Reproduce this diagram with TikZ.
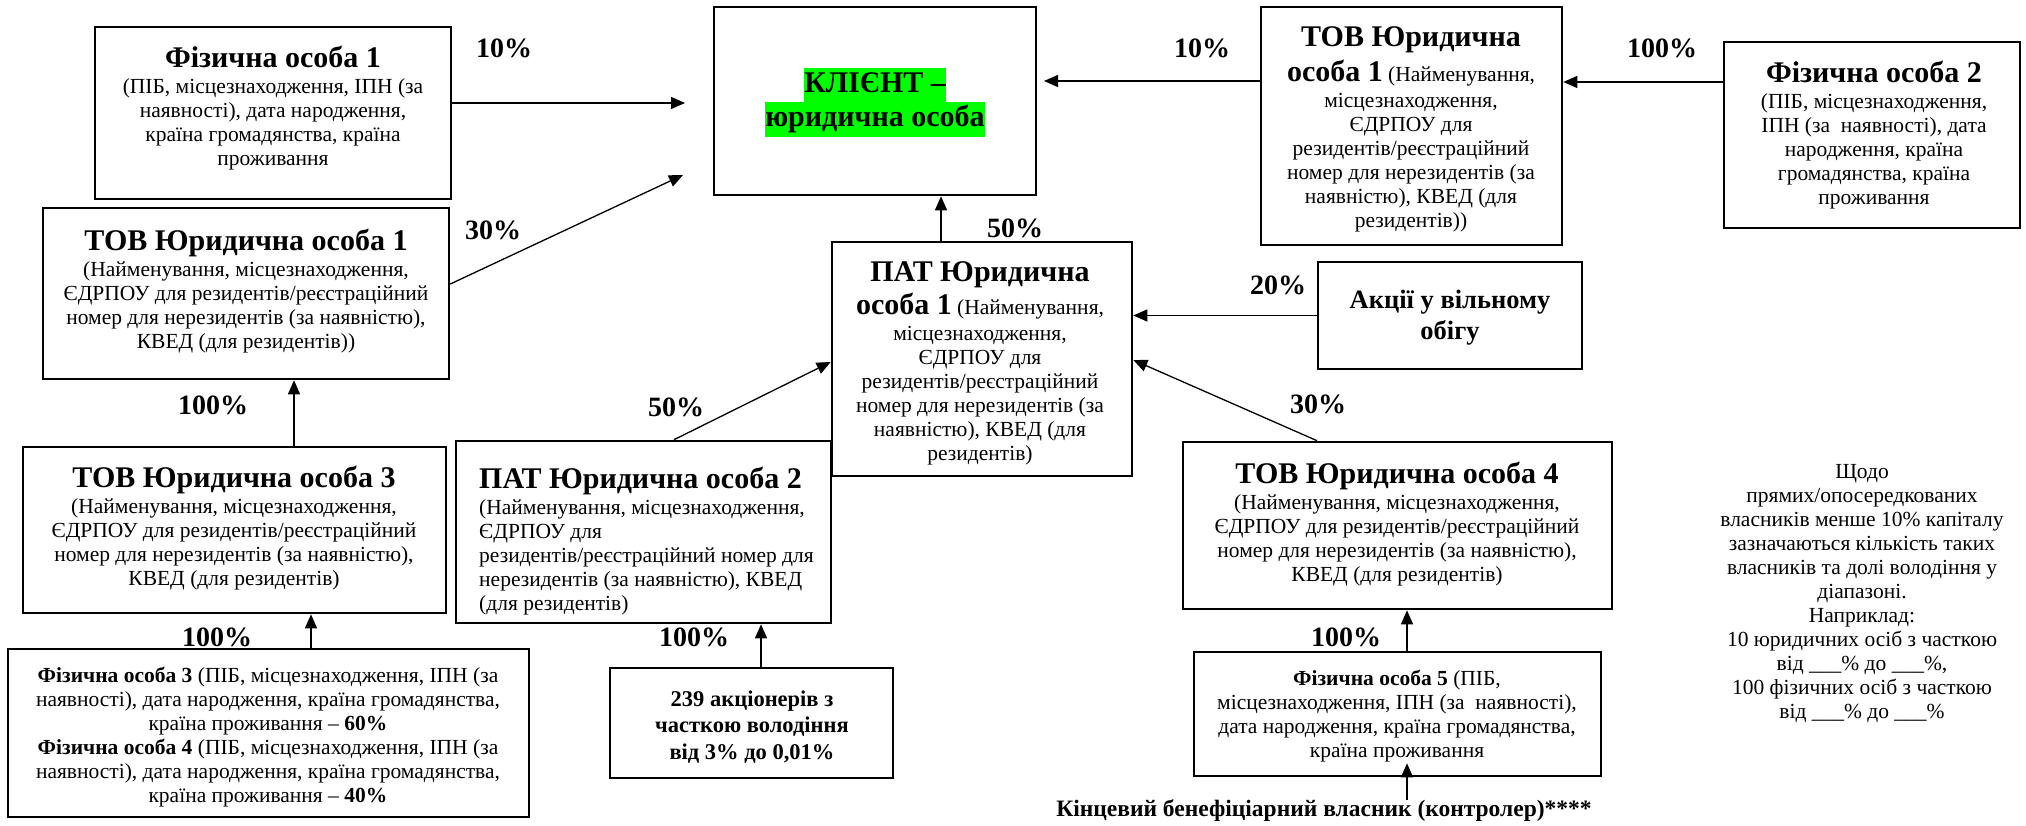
\documentclass[tikz,border=0pt]{standalone}
\usepackage{fontspec}
\setmainfont{Liberation Serif}
\usetikzlibrary{arrows.meta}
\definecolor{hlgreen}{RGB}{0,255,0}
\newcommand{\bodyf}{\fontsize{21.5}{24}\selectfont}
\newcommand{\titlef}{\fontsize{30}{34}\selectfont\bfseries}
\newcommand{\pctf}{\fontsize{28}{32}\selectfont\bfseries}
\newcommand{\klf}{\fontsize{30}{34.5}\selectfont\bfseries}
\newcommand{\hlline}[1]{{\setlength{\fboxsep}{0pt}\colorbox{hlgreen}{\vrule height 24.5pt depth 10pt width 0pt#1}}}
\begin{document}
\begin{tikzpicture}[x=1pt,y=-1pt,
  box/.style={draw, line width=2.6pt, inner sep=0pt},
  txt/.style={inner sep=0pt, align=center, font=\bodyf},
  pct/.style={inner sep=0pt, font=\pctf},
  arr/.style={-{Triangle[length=14pt,width=12pt]}, line width=1.3pt}]
\fill[white] (0,0) rectangle (2026,826);
% boxes
\node[box, minimum width=356pt, minimum height=172pt] (fiz1) at (273,113) {};
\node[box, minimum width=406pt, minimum height=171pt] (tovL1) at (246,293.5) {};
\node[box, minimum width=423pt, minimum height=166pt] (tov3) at (234.5,530) {};
\node[box, minimum width=521pt, minimum height=168pt] (fiz34) at (268.5,733) {};
\node[box, minimum width=322pt, minimum height=188pt] (klient) at (875,101) {};
\node[box, minimum width=300pt, minimum height=234pt] (pat1) at (982,359) {};
\node[box, minimum width=301pt, minimum height=238pt] (tovR1) at (1411.5,126) {};
\node[box, minimum width=296pt, minimum height=186pt] (fiz2) at (1872,135) {};
\node[box, minimum width=264pt, minimum height=107pt] (akcii) at (1450,315.5) {};
\node[box, minimum width=375pt, minimum height=182pt] (pat2) at (643.5,532) {};
\node[box, minimum width=429pt, minimum height=167pt] (tov4) at (1397.5,525.5) {};
\node[box, minimum width=283pt, minimum height=110pt] (n239) at (751.5,723) {};
\node[box, minimum width=407pt, minimum height=124pt] (fiz5) at (1397.5,714) {};
% texts
\node[txt, anchor=north] (fiz1t) at (273,46) {{\titlef Фізична особа 1}\\[2pt]
(ПІБ, місцезнаходження, ІПН (за\\ наявності), дата народження,\\ країна громадянства, країна\\ проживання};
\node[txt, anchor=north] (tovL1t) at (246,229) {{\titlef ТОВ Юридична особа 1}\\[2pt]
(Найменування, місцезнаходження,\\ ЄДРПОУ для резидентів/реєстраційний\\ номер для нерезидентів (за наявністю),\\ КВЕД (для резидентів))};
\node[txt, anchor=north] (tov3t) at (234,466) {{\titlef ТОВ Юридична особа 3}\\[2pt]
(Найменування, місцезнаходження,\\ ЄДРПОУ для резидентів/реєстраційний\\ номер для нерезидентів (за наявністю),\\ КВЕД (для резидентів)};
\node[txt, anchor=north] (fiz34t) at (268,667) {\textbf{Фізична особа 3} (ПІБ, місцезнаходження, ІПН (за\\ наявності), дата народження, країна громадянства,\\ країна проживання – \textbf{60\%}\\
\textbf{Фізична особа 4} (ПІБ, місцезнаходження, ІПН (за\\ наявності), дата народження, країна громадянства,\\ країна проживання – \textbf{40\%}};
\node[inner sep=0pt, align=center, font=\klf] (klientt) at (875,102.5) {\hlline{КЛІЄНТ –}\\\hlline{юридична особа}};
\node[txt, anchor=north] (pat1t) at (980,261) {{\titlef ПАТ Юридична}\\[4.5pt]
{\titlef особа 1} (Найменування,\\[2.5pt] місцезнаходження,\\ ЄДРПОУ для\\ резидентів/реєстраційний\\ номер для нерезидентів (за\\ наявністю), КВЕД (для\\ резидентів)};
\node[txt, anchor=north] (tovR1t) at (1411,26) {{\titlef ТОВ Юридична}\\[6.5pt]
{\titlef особа 1} (Найменування,\\[2.5pt] місцезнаходження,\\ ЄДРПОУ для\\ резидентів/реєстраційний\\ номер для нерезидентів (за\\ наявністю), КВЕД (для\\ резидентів))};
\node[txt, anchor=north] (fiz2t) at (1874,61) {{\titlef Фізична особа 2}\\[2pt]
(ПІБ, місцезнаходження,\\ ІПН (за~ наявності), дата\\ народження, країна\\ громадянства, країна\\ проживання};
\node[inner sep=0pt, align=center, font={\fontsize{26.5}{31}\selectfont\bfseries}] (akciit) at (1450,318) {Акції у вільному\\ обігу};
\node[txt, align=left, anchor=north west] (pat2t) at (479,467) {{\titlef ПАТ Юридична особа 2}\\[2pt]
(Найменування, місцезнаходження,\\ ЄДРПОУ для\\ резидентів/реєстраційний номер для\\ нерезидентів (за наявністю), КВЕД\\ (для резидентів)};
\node[txt, anchor=north] (tov4t) at (1397,462) {{\titlef ТОВ Юридична особа 4}\\[2pt]
(Найменування, місцезнаходження,\\ ЄДРПОУ для резидентів/реєстраційний\\ номер для нерезидентів (за наявністю),\\ КВЕД (для резидентів)};
\node[inner sep=0pt, align=center, font={\fontsize{22.5}{26.5}\selectfont\bfseries}] (n239t) at (752,727) {239 акціонерів з\\ часткою володіння\\ від 3\% до 0,01\%};
\node[txt, anchor=north] (fiz5t) at (1397,670) {\textbf{Фізична особа 5} (ПІБ,\\ місцезнаходження, ІПН (за~ наявності),\\ дата народження, країна громадянства,\\ країна проживання};
\node[inner sep=0pt, font={\fontsize{23.5}{26}\selectfont\bfseries}] (kbv) at (1324,811) {Кінцевий бенефіціарний власник (контролер)****};
\node[txt, anchor=north] (note) at (1862,464) {Щодо\\ прямих/опосередкованих\\ власників менше 10\% капіталу\\ зазначаються кількість таких\\ власників та долі володіння у\\ діапазоні.\\ Наприклад:\\ 10 юридичних осіб з часткою\\ від \_\_\_\% до \_\_\_\%,\\ 100 фізичних осіб з часткою\\ від \_\_\_\% до \_\_\_\%};
% percent labels
\node[pct] (p1) at (504,48) {10\%};
\node[pct] (p2) at (493,230) {30\%};
\node[pct] (p3) at (213,405) {100\%};
\node[pct] (p4) at (217,637) {100\%};
\node[pct] (p5) at (1202,48) {10\%};
\node[pct] (p6) at (1662,48) {100\%};
\node[pct] (p7) at (1015,228) {50\%};
\node[pct] (p8) at (1278,285) {20\%};
\node[pct] (p9) at (676,407) {50\%};
\node[pct] (p10) at (1318,404) {30\%};
\node[pct] (p11) at (694,637) {100\%};
\node[pct] (p12) at (1346,637) {100\%};
% free ends
\coordinate (k1) at (685,103);
\coordinate (k2) at (683,175);
\coordinate (k3) at (1044,81);
% connectors
\draw[arr] ([yshift=10pt]fiz1.east) -- (k1);
\draw[arr] ([yshift=9.5pt]tovL1.east) -- (k2);
\draw[arr] ([yshift=45pt]tovR1.west) -- (k3);
\draw[arr] ([yshift=53pt]fiz2.west) -- ([yshift=53pt]fiz2.west -| tovR1.east);
\draw[arr] ([xshift=-41pt]pat1.north) -- ([xshift=-41pt]pat1.north |- klient.south);
\draw[arr] (akcii.west) -- (akcii.west -| pat1.east);
\draw[arr] ([xshift=30.5pt]pat2.north) -- ([yshift=-3pt]pat1.west);
\draw[arr] ([xshift=-80.5pt]tov4.north) -- ([yshift=-1pt]pat1.east);
\draw[arr] ([xshift=59.5pt]tov3.north) -- ([xshift=59.5pt]tov3.north |- tovL1.south);
\draw[arr] ([xshift=42.5pt]fiz34.north) -- ([xshift=42.5pt]fiz34.north |- tov3.south);
\draw[arr] ([xshift=9.5pt]n239.north) -- ([xshift=9.5pt]n239.north |- pat2.south);
\draw[arr] ([xshift=9.5pt]fiz5.north) -- ([xshift=9.5pt]fiz5.north |- tov4.south);
\draw[arr] ([xshift=9.5pt]fiz5.south |- kbv.north) -- ([xshift=9.5pt,yshift=14pt]fiz5.south);
\end{tikzpicture}
\end{document}
